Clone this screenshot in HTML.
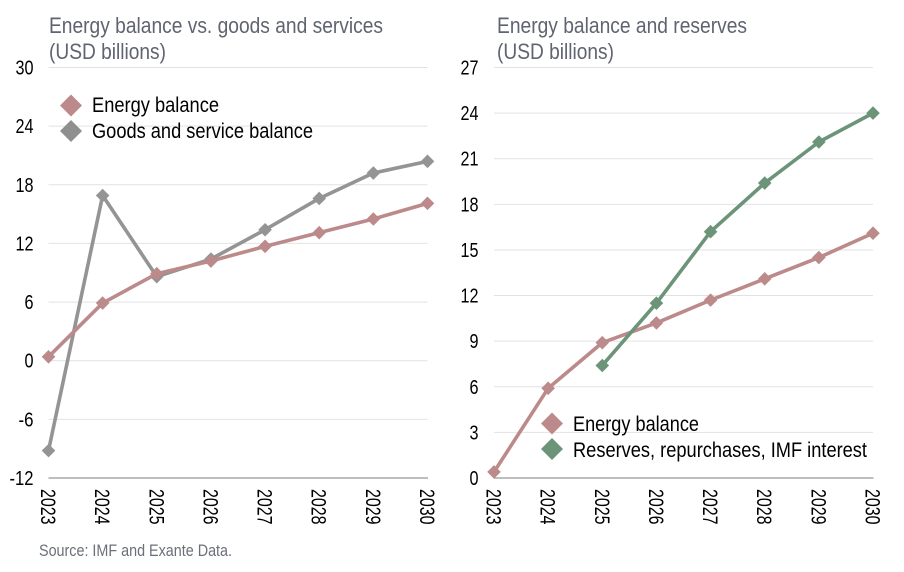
<!DOCTYPE html>
<html lang="en">
<head>
<meta charset="utf-8">
<title>Energy balance charts</title>
<style>
html,body{margin:0;padding:0;background:#fff;}
svg{display:block;font-family:"Liberation Sans",Arial,sans-serif;}
</style>
</head>
<body>
<svg id="chart" xmlns="http://www.w3.org/2000/svg" width="904" height="572" viewBox="0 0 904 572">
  <rect x="0" y="0" width="904" height="572" fill="#ffffff"/>
  <g id="left-panel"></g>
  <g id="right-panel"></g>
  <text x="49" y="33" font-size="22" fill="#5f6470" textLength="334" lengthAdjust="spacingAndGlyphs">Energy balance vs. goods and services</text>
  <text x="49" y="59" font-size="22" fill="#5f6470" textLength="117" lengthAdjust="spacingAndGlyphs">(USD billions)</text>
  <text x="497" y="33" font-size="22" fill="#5f6470" textLength="250" lengthAdjust="spacingAndGlyphs">Energy balance and reserves</text>
  <text x="497" y="59" font-size="22" fill="#5f6470" textLength="117" lengthAdjust="spacingAndGlyphs">(USD billions)</text>
  <g>
    <polygon points="71,94.5 82,105.5 71,116.5 60,105.5" fill="#bc8a8a"/>
    <text x="92" y="112" font-size="21" fill="#000" textLength="127" lengthAdjust="spacingAndGlyphs">Energy balance</text>
    <polygon points="71,120 82,131 71,142 60,131" fill="#8f8f8f"/>
    <text x="92" y="138" font-size="21" fill="#000" textLength="221" lengthAdjust="spacingAndGlyphs">Goods and service balance</text>
  </g>
  <g>
    <polygon points="552,412.5 563,423.5 552,434.5 541,423.5" fill="#bc8a8a"/>
    <text x="573" y="431" font-size="21" fill="#000" textLength="126" lengthAdjust="spacingAndGlyphs">Energy balance</text>
    <polygon points="552,438 563,449 552,460 541,449" fill="#6c9479"/>
    <text x="573" y="457" font-size="21" fill="#000" textLength="294" lengthAdjust="spacingAndGlyphs">Reserves, repurchases, IMF interest</text>
  </g>
  <text x="39" y="556" font-size="17" fill="#6b7078" textLength="193" lengthAdjust="spacingAndGlyphs">Source: IMF and Exante Data.</text>
</svg>
<script>
const years = [2023, 2024, 2025, 2026, 2027, 2028, 2029, 2030];
const energyBalance = [0.4, 5.9, 8.9, 10.2, 11.7, 13.1, 14.5, 16.1];
const goodsServiceBalance = [-9.2, 16.9, 8.6, 10.4, 13.4, 16.6, 19.2, 20.4];
const reservesRepurchases = [null, null, 7.4, 11.5, 16.2, 19.4, 22.1, 24.0];
const leftTicks = [-12, -6, 0, 6, 12, 18, 24, 30];
const rightTicks = [0, 3, 6, 9, 12, 15, 18, 21, 24, 27];

const NS = 'http://www.w3.org/2000/svg';
const TOP = 67.5, BOTTOM = 478;

function make(tag, attrs, parent) {
  const el = document.createElementNS(NS, tag);
  for (const k in attrs) el.setAttribute(k, attrs[k]);
  parent.appendChild(el);
  return el;
}

function drawPanel(parent, x0, x1, ticks, labelRight, seriesList) {
  const xScale = i => x0 + (x1 - x0) * i / (years.length - 1);
  const lo = ticks[0], hi = ticks[ticks.length - 1];
  const yScale = v => BOTTOM - (BOTTOM - TOP) * (v - lo) / (hi - lo);

  ticks.forEach(t => {
    const y = yScale(t);
    const isBase = t === lo;
    const grid = make('line', {
      x1: x0, x2: x1 + (isBase ? 0.5 : 0), y1: y, y2: y,
      stroke: isBase ? '#a8a8a8' : '#e2e2e2',
      'stroke-width': isBase ? 1.6 : 1
    }, parent);
    
    

    const label = make('text', {
      x: labelRight, y: y + 7, 'text-anchor': 'end', 'font-size': 20, fill: '#000',
      textLength: String(t).length * 9 - (t < 0 ? 3 : 0), lengthAdjust: 'spacingAndGlyphs'
    }, parent);
    label.textContent = String(t);
    
    
  });

  years.forEach((yr, i) => {
    const x = xScale(i) - 7.5;
    const label = make('text', {
      x: 0, y: 0, transform: 'translate(' + x + ' 489) rotate(90)',
      'font-size': 21, fill: '#000', textLength: 35.5, lengthAdjust: 'spacingAndGlyphs'
    }, parent);
    label.textContent = String(yr);
    
    
  });

  seriesList.forEach(s => {
    const pts = [];
    s.values.forEach((v, i) => {
      if (v !== null) pts.push([xScale(i), yScale(v)]);
    });
    const line = make('polyline', {
      points: pts.map(p => p[0] + ',' + p[1]).join(' '),
      fill: 'none', stroke: s.color, 'stroke-width': 3.6, 'stroke-linejoin': 'round'
    }, parent);
    
    

    pts.forEach(p => {
      const r = 6.8;
      const marker = make('polygon', {
        points: [p[0], p[1] - r, p[0] + r, p[1], p[0], p[1] + r, p[0] - r, p[1]].join(' '),
        fill: s.color
      }, parent);
      
      
    });
  });
}

drawPanel(document.getElementById('left-panel'), 48.5, 427.5, leftTicks, 33.5, [
  { name: 'goods-and-service-balance', values: goodsServiceBalance, color: '#949494' },
  { name: 'energy-balance', values: energyBalance, color: '#bc8a8a' }
]);
drawPanel(document.getElementById('right-panel'), 494, 873, rightTicks, 478.5, [
  { name: 'energy-balance', values: energyBalance, color: '#bc8a8a' },
  { name: 'reserves-repurchases-imf-interest', values: reservesRepurchases, color: '#6c9479' }
]);
</script>
</body>
</html>
